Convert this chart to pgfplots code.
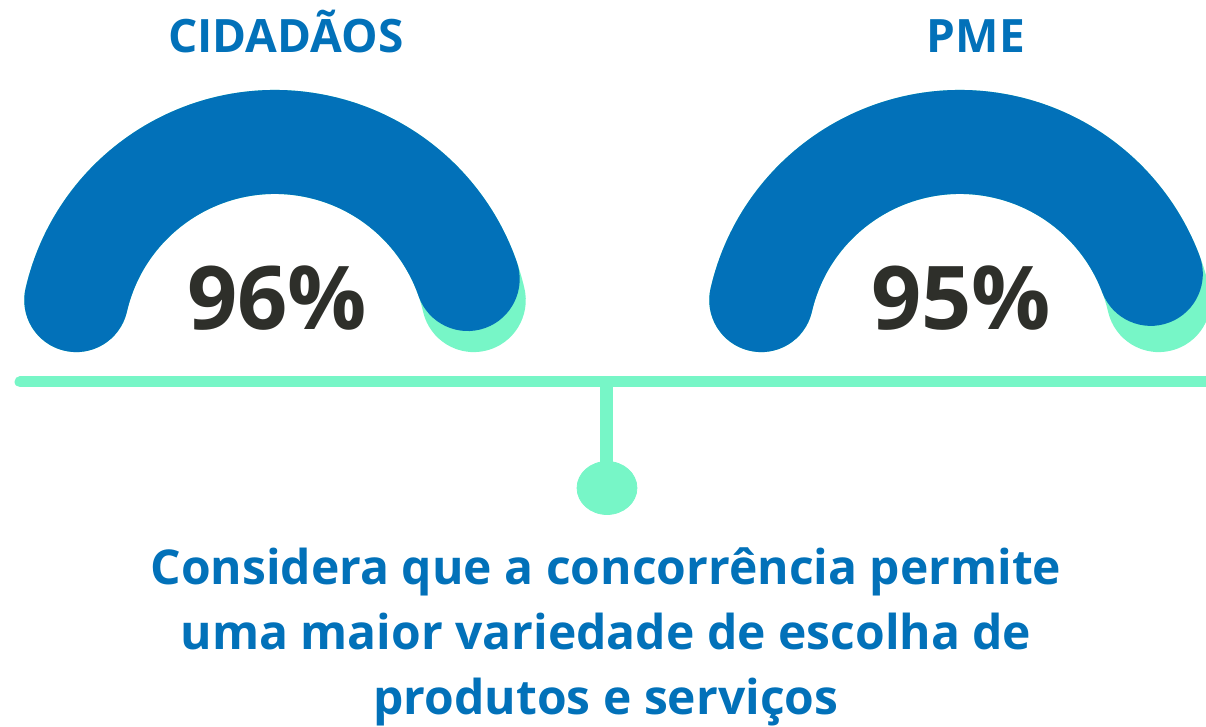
\documentclass[border=0pt]{standalone}
\usepackage{pgfplots}
\pgfplotsset{compat=1.18}
\usepackage{pgfplotstable}
\usepackage{fontspec}
\setmainfont{Open Sans}
\definecolor{gblue}{RGB}{2,113,185}
\definecolor{ggreen}{RGB}{119,246,199}
\definecolor{gdark}{RGB}{46,47,42}
\pgfplotstableread{
group value cx
Cidadaos 96 275
PME 95 960
}\gauges
\pgfplotstablegetelem{0}{value}\of\gauges \let\vA\pgfplotsretval
\pgfplotstablegetelem{1}{value}\of\gauges \let\vB\pgfplotsretval
\begin{document}
\begin{tikzpicture}
\useasboundingbox (0,0) rectangle (603pt,363.5pt);
\begin{axis}[
  at={(0,0)}, anchor=south west,
  scale only axis, width=603pt, height=363.5pt,
  xmin=0, xmax=1206, ymin=0, ymax=727,
  hide axis, clip=true, clip mode=global,
]
% horizontal line, stem, dot
\addplot[ggreen, line width=5.5pt, line cap=round] coordinates {(20,345) (1230,345)};
\addplot[ggreen, line width=6.5pt] coordinates {(606.5,345) (606.5,250)};
\addplot[only marks, mark=*, mark size=13.25pt, color=ggreen, mark options={xscale=1.13}] coordinates {(607,239)};
% gauges: track then value arc (span 167 -> 13 degrees)
\draw[ggreen, line width=52pt, line cap=round] (axis cs:275,381) ++(167:102pt) arc[start angle=167, end angle=13, radius=102pt];
\draw[gblue, line width=52pt, line cap=round] (axis cs:275,381) ++(167:102pt) arc[start angle=167, end angle={167-1.54*\vA}, radius=102pt];
\draw[ggreen, line width=52pt, line cap=round] (axis cs:960,381) ++(167:102pt) arc[start angle=167, end angle=13, radius=102pt];
\draw[gblue, line width=52pt, line cap=round] (axis cs:960,381) ++(167:102pt) arc[start angle=167, end angle={167-1.54*\vB}, radius=102pt];
% texts
\node[anchor=base, text=gblue, font=\fontsize{23}{27}\selectfont\bfseries] at (axis cs:286,674) {CIDADÃOS};
\node[anchor=base, text=gblue, font=\fontsize{23}{27}\selectfont\bfseries] at (axis cs:976,674) {PME};
\node[anchor=base, text=gdark, font=\fontsize{44}{50}\selectfont\bfseries] at (axis cs:277,397) {\vA\%};
\node[anchor=base, text=gdark, font=\fontsize{44}{50}\selectfont\bfseries] at (axis cs:961,397) {\vB\%};
\node[anchor=base, text=gblue, font=\fontsize{24}{28}\selectfont\bfseries] at (axis cs:606,142) {Considera que a concorrência permite};
\node[anchor=base, text=gblue, font=\fontsize{24}{28}\selectfont\bfseries] at (axis cs:606,77) {uma maior variedade de escolha de};
\node[anchor=base, text=gblue, font=\fontsize{24}{28}\selectfont\bfseries] at (axis cs:606,12) {produtos e serviços};
\end{axis}
\end{tikzpicture}
\end{document}
